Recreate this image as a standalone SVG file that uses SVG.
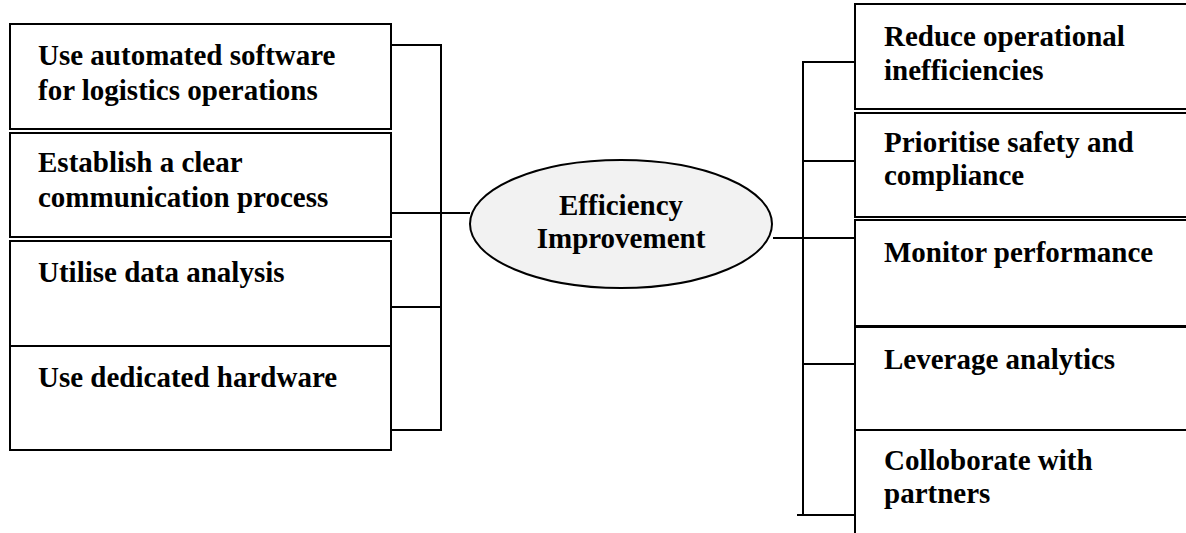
<svg xmlns="http://www.w3.org/2000/svg" width="1186" height="533" viewBox="0 0 1186 533">
<style>
.box{fill:#fff;stroke:#000;stroke-width:2}
.ell{fill:#f2f2f2;stroke:#000;stroke-width:2}
.t{font-family:"Liberation Serif","Times New Roman",serif;font-weight:bold;font-size:29px;fill:#000}
.c{text-anchor:middle}
.ln{stroke:#000;stroke-width:2;fill:none}
</style>
<rect width="1186" height="533" fill="#fff"/>
<g id="connectors">
<path class="ln" d="M391 45H441V430H391M391 213H470M391 307H441"/>
<path class="ln" d="M855 62H803V515H797M803 515H855M803 161H855M773 238H855M803 364H855"/>
</g>
<g id="n-l1"><rect class="box" x="10" y="24" width="381" height="105"/><text class="t" x="38" y="65">Use automated software</text><text class="t" x="38" y="100">for logistics operations</text></g>
<g id="n-l2"><rect class="box" x="10" y="133" width="381" height="104"/><text class="t" x="38" y="172">Establish a clear</text><text class="t" x="38" y="207">communication process</text></g>
<g id="n-l3"><rect class="box" x="10" y="241" width="381" height="105"/><text class="t" x="38" y="282">Utilise data analysis</text></g>
<g id="n-l4"><rect class="box" x="10" y="346" width="381" height="104"/><text class="t" x="38" y="387">Use dedicated hardware</text></g>
<g id="n-center"><ellipse class="ell" cx="621" cy="224" rx="151" ry="64"/><text class="t c" x="621" y="215">Efficiency</text><text class="t c" x="621" y="248">Improvement</text></g>
<g id="n-r1"><rect class="box" x="855" y="4" width="340" height="105"/><text class="t" x="884" y="46">Reduce operational</text><text class="t" x="884" y="80">inefficiencies</text></g>
<g id="n-r2"><rect class="box" x="855" y="113" width="340" height="104"/><text class="t" x="884" y="152">Prioritise safety and</text><text class="t" x="884" y="185">compliance</text></g>
<g id="n-r3"><rect class="box" x="855" y="220" width="340" height="106"/><text class="t" x="884" y="262">Monitor performance</text></g>
<g id="n-r4"><rect class="box" x="855" y="327" width="340" height="103"/><text class="t" x="884" y="369">Leverage analytics</text></g>
<g id="n-r5"><rect class="box" x="855" y="430" width="340" height="120"/><text class="t" x="884" y="470">Colloborate with</text><text class="t" x="884" y="503">partners</text></g>
</svg>
